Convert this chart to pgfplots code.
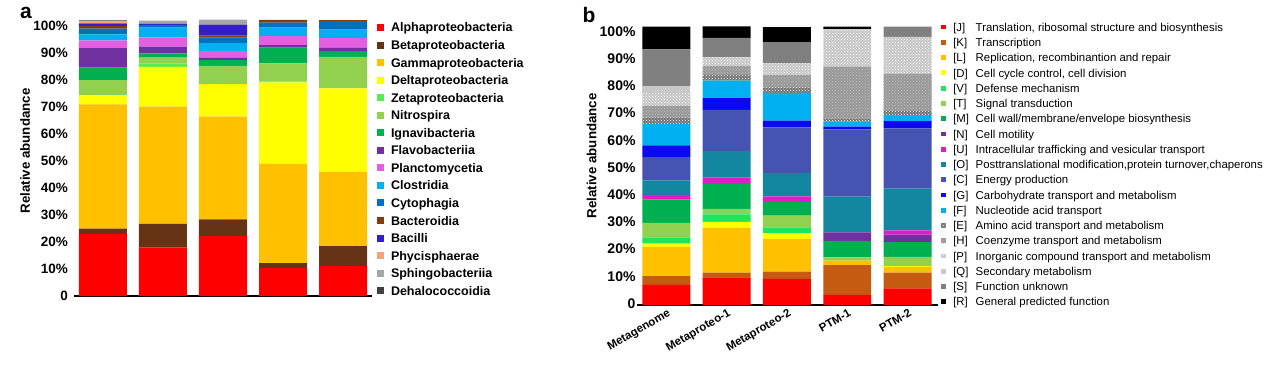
\documentclass[border=0pt]{standalone}
\usepackage{fontspec}
\setmainfont{Liberation Sans}
\usepackage{pgfplots}
\pgfplotsset{compat=1.18}
\usepackage{pgfplotstable}
\usetikzlibrary{patterns}

\definecolor{aAlpha}{RGB}{255,0,0}
\definecolor{aBeta}{RGB}{102,51,20}
\definecolor{aGamma}{RGB}{255,192,0}
\definecolor{aDelta}{RGB}{255,255,0}
\definecolor{aZeta}{RGB}{90,235,80}
\definecolor{aNitro}{RGB}{146,208,80}
\definecolor{aIgnavi}{RGB}{0,176,80}
\definecolor{aFlavo}{RGB}{112,48,160}
\definecolor{aPlancto}{RGB}{226,95,226}
\definecolor{aClost}{RGB}{0,176,240}
\definecolor{aCyto}{RGB}{0,112,192}
\definecolor{aBactero}{RGB}{132,60,12}
\definecolor{aBacilli}{RGB}{51,30,200}
\definecolor{aPhycis}{RGB}{244,165,120}
\definecolor{aSphingo}{RGB}{166,166,166}
\definecolor{aDehalo}{RGB}{64,64,64}

\definecolor{bJ}{RGB}{255,0,0}
\definecolor{bK}{RGB}{197,90,17}
\definecolor{bL}{RGB}{255,192,0}
\definecolor{bD}{RGB}{255,255,0}
\definecolor{bV}{RGB}{30,230,90}
\definecolor{bT}{RGB}{146,208,80}
\definecolor{bM}{RGB}{0,176,80}
\definecolor{bN}{RGB}{112,48,160}
\definecolor{bU}{RGB}{220,30,200}
\definecolor{bO}{RGB}{20,135,160}
\definecolor{bC}{RGB}{68,84,176}
\definecolor{bG}{RGB}{10,10,240}
\definecolor{bF}{RGB}{0,176,240}
\definecolor{bQ}{RGB}{200,200,200}
\definecolor{bS}{RGB}{128,128,128}
\definecolor{bR}{RGB}{0,0,0}

\pgfplotstableread{
x Alpha Beta Gamma Delta Zeta Nitro Ignavi Flavo Plancto Clost Cyto Bactero Bacilli Phycis Sphingo Dehalo
0 23.0 2.0 46.0 3.3 0 5.7 4.6 7.4 2.7 2.2 2.1 1.0 1.0 0.9 0.2 0.2
1 17.9 8.8 43.4 14.8 1.2 2.2 1.6 2.5 3.4 3.6 1.0 0 0.4 0 1.2 0
2 22.2 6.2 38.0 12.1 0.3 6.4 2.2 0.8 2.5 3.0 2.0 0.7 4.1 0 1.85 0
3 10.3 1.9 36.7 30.2 0.3 6.8 5.8 0.9 3.4 3.1 1.85 1.0 0 0 0 0
4 11.1 7.4 27.4 31.0 0 11.7 2.1 1.2 3.7 3.1 3.1 0.4 0 0 0 0
}\tabA

\pgfplotstableread{
x J K L D V T M N U O C G F E H P Q S R
0 7.4 3.2 10.8 1.2 2.3 5.3 8.6 0 1.7 5.3 8.6 4.3 7.8 2.5 4.2 4.8 2.6 13.4 8.3
1 10.2 1.7 16.5 2.2 2.7 2.0 9.2 0 2.45 9.7 15.1 4.3 6.4 2.2 3.2 3.2 0 7.2 4.15
2 9.6 2.7 12.0 2.1 2.1 4.4 5.0 0 2.0 8.7 16.7 2.5 10.2 2.0 4.5 4.3 0 7.8 5.6
3 3.7 11.0 1.6 0 0 1.2 6.1 3.1 0 13.1 24.8 1.0 1.8 1.2 19.0 13.8 0 0 0.9
4 6.1 5.8 2.1 0.3 0 3.4 5.4 2.8 1.5 15.4 22.1 2.7 2.2 1.5 13.8 13.5 0 3.7 0
}\tabB

\newcommand{\lk}[2]{\makebox[22.4pt][l]{[#1]}#2}

\begin{document}
\begin{tikzpicture}
\useasboundingbox (0pt,0pt) rectangle (1280pt,365pt);

% ---------------- panel a ----------------
\begin{axis}[
  at={(74pt,69pt)}, anchor=south west,
  scale only axis, width=298pt, height=278.1pt,
  ybar stacked, bar width=0.8,
  enlargelimits=false,
  xmin=-0.483, xmax=4.483, ymin=0, ymax=103,
  axis x line*=bottom, axis y line*=left,
  y axis line style={draw=none},
  x axis line style={-, line width=1.6pt},
  xtick=\empty,
  ytick={0,10,...,100},
  yticklabels={0,10\%,20\%,30\%,40\%,50\%,60\%,70\%,80\%,90\%,100\%},
  major tick length=0pt,
  yticklabel style={font=\fontsize{13.5}{14}\selectfont\bfseries, inner sep=0pt, xshift=-6pt},
  legend cell align=left,
  legend style={draw=none, fill=none, at={(1.0168,0.9817)}, anchor=north west,
    inner xsep=0pt, inner ysep=0pt, outer sep=0pt, row sep=5.55pt, column sep=7pt,
    font=\fontsize{12.5}{13}\selectfont\bfseries,
    nodes={inner sep=0pt, text height=9pt, text depth=3pt}},
  legend image code/.code={\fill[#1,draw=none] (0pt,-2pt) rectangle (7pt,5pt);},
]
\addplot[fill=aAlpha,draw=none] table[x=x,y=Alpha]{\tabA}; \addlegendentry{Alphaproteobacteria}
\addplot[fill=aBeta,draw=none] table[x=x,y=Beta]{\tabA}; \addlegendentry{Betaproteobacteria}
\addplot[fill=aGamma,draw=none] table[x=x,y=Gamma]{\tabA}; \addlegendentry{Gammaproteobacteria}
\addplot[fill=aDelta,draw=none] table[x=x,y=Delta]{\tabA}; \addlegendentry{Deltaproteobacteria}
\addplot[fill=aZeta,draw=none] table[x=x,y=Zeta]{\tabA}; \addlegendentry{Zetaproteobacteria}
\addplot[fill=aNitro,draw=none] table[x=x,y=Nitro]{\tabA}; \addlegendentry{Nitrospira}
\addplot[fill=aIgnavi,draw=none] table[x=x,y=Ignavi]{\tabA}; \addlegendentry{Ignavibacteria}
\addplot[fill=aFlavo,draw=none] table[x=x,y=Flavo]{\tabA}; \addlegendentry{Flavobacteriia}
\addplot[fill=aPlancto,draw=none] table[x=x,y=Plancto]{\tabA}; \addlegendentry{Planctomycetia}
\addplot[fill=aClost,draw=none] table[x=x,y=Clost]{\tabA}; \addlegendentry{Clostridia}
\addplot[fill=aCyto,draw=none] table[x=x,y=Cyto]{\tabA}; \addlegendentry{Cytophagia}
\addplot[fill=aBactero,draw=none] table[x=x,y=Bactero]{\tabA}; \addlegendentry{Bacteroidia}
\addplot[fill=aBacilli,draw=none] table[x=x,y=Bacilli]{\tabA}; \addlegendentry{Bacilli}
\addplot[fill=aPhycis,draw=none] table[x=x,y=Phycis]{\tabA}; \addlegendentry{Phycisphaerae}
\addplot[fill=aSphingo,draw=none] table[x=x,y=Sphingo]{\tabA}; \addlegendentry{Sphingobacteriia}
\addplot[fill=aDehalo,draw=none] table[x=x,y=Dehalo]{\tabA}; \addlegendentry{Dehalococcoidia}
\end{axis}

% ---------------- panel b ----------------
\begin{axis}[
  at={(636.7pt,60pt)}, anchor=south west,
  scale only axis, width=301.3pt, height=280.16pt,
  ybar stacked, bar width=0.796,
  enlargelimits=false,
  xmin=-0.493, xmax=4.506, ymin=0, ymax=103,
  axis x line*=bottom, axis y line*=left,
  y axis line style={draw=none},
  x axis line style={-, line width=1.6pt},
  xtick={0,1,2,3,4},
  xticklabels={Metagenome,Metaproteo-1,Metaproteo-2,PTM-1,PTM-2},
  xticklabel style={rotate=30, anchor=north east, inner sep=0pt, xshift=-1pt, yshift=-3pt,
    font=\fontsize{11.5}{12}\selectfont\bfseries},
  ytick={0,10,...,100},
  yticklabels={0,10\%,20\%,30\%,40\%,50\%,60\%,70\%,80\%,90\%,100\%},
  major tick length=0pt,
  yticklabel style={font=\fontsize{14}{15}\selectfont\bfseries, inner sep=0pt, xshift=-1pt, yshift=1.5pt},
  legend cell align=left,
  legend style={draw=none, fill=none, at={(1.010,1.0073)}, anchor=north west,
    inner xsep=0pt, inner ysep=0pt, outer sep=0pt, row sep=4.26pt, column sep=7.3pt,
    font=\fontsize{11.4}{12}\selectfont,
    nodes={inner sep=0pt, text height=8.5pt, text depth=2.5pt}},
  legend image code/.code={\fill[#1,draw=none] (0pt,-1.2pt) rectangle (5pt,3.6pt);},
]
\addplot[fill=bJ,draw=none] table[x=x,y=J]{\tabB}; \addlegendentry{\lk{J}{Translation, ribosomal structure and biosynthesis}}
\addplot[fill=bK,draw=none] table[x=x,y=K]{\tabB}; \addlegendentry{\lk{K}{Transcription}}
\addplot[fill=bL,draw=none] table[x=x,y=L]{\tabB}; \addlegendentry{\lk{L}{Replication, recombinantion and repair}}
\addplot[fill=bD,draw=none] table[x=x,y=D]{\tabB}; \addlegendentry{\lk{D}{Cell cycle control, cell division}}
\addplot[fill=bV,draw=none] table[x=x,y=V]{\tabB}; \addlegendentry{\lk{V}{Defense mechanism}}
\addplot[fill=bT,draw=none] table[x=x,y=T]{\tabB}; \addlegendentry{\lk{T}{Signal transduction}}
\addplot[fill=bM,draw=none] table[x=x,y=M]{\tabB}; \addlegendentry{\lk{M}{Cell wall/membrane/envelope biosynthesis}}
\addplot[fill=bN,draw=none] table[x=x,y=N]{\tabB}; \addlegendentry{\lk{N}{Cell motility}}
\addplot[fill=bU,draw=none] table[x=x,y=U]{\tabB}; \addlegendentry{\lk{U}{Intracellular trafficking and vesicular transport}}
\addplot[fill=bO,draw=none] table[x=x,y=O]{\tabB}; \addlegendentry{\lk{O}{Posttranslational modification,protein turnover,chaperons}}
\addplot[fill=bC,draw=none] table[x=x,y=C]{\tabB}; \addlegendentry{\lk{C}{Energy production}}
\addplot[fill=bG,draw=none] table[x=x,y=G]{\tabB}; \addlegendentry{\lk{G}{Carbohydrate transport and metabolism}}
\addplot[fill=bF,draw=none] table[x=x,y=F]{\tabB}; \addlegendentry{\lk{F}{Nucleotide acid transport}}
\addplot[fill=black!55,draw=none,postaction={pattern=crosshatch dots,pattern color=white}] table[x=x,y=E]{\tabB}; \addlegendentry{\lk{E}{Amino acid transport and metabolism}}
\addplot[fill=black!40,draw=none,postaction={pattern=crosshatch dots,pattern color=black!25}] table[x=x,y=H]{\tabB}; \addlegendentry{\lk{H}{Coenzyme transport and metabolism}}
\addplot[fill=black!22,draw=none,postaction={pattern=crosshatch dots,pattern color=white}] table[x=x,y=P]{\tabB}; \addlegendentry{\lk{P}{Inorganic compound transport and metabolism}}
\addplot[fill=bQ,draw=none] table[x=x,y=Q]{\tabB}; \addlegendentry{\lk{Q}{Secondary metabolism}}
\addplot[fill=bS,draw=none] table[x=x,y=S]{\tabB}; \addlegendentry{\lk{S}{Function unknown}}
\addplot[fill=bR,draw=none] table[x=x,y=R]{\tabB}; \addlegendentry{\lk{R}{General predicted function}}
\end{axis}

\node[font=\fontsize{21}{22}\selectfont\bfseries] at (26pt,352pt) {a};
\node[font=\fontsize{21}{22}\selectfont\bfseries] at (589pt,350pt) {b};
\node[rotate=90, font=\fontsize{13.3}{14}\selectfont\bfseries] at (25pt,214pt) {Relative abundance};
\node[rotate=90, font=\fontsize{13.3}{14}\selectfont\bfseries] at (591.7pt,209.2pt) {Relative abundance};
\end{tikzpicture}
\end{document}
